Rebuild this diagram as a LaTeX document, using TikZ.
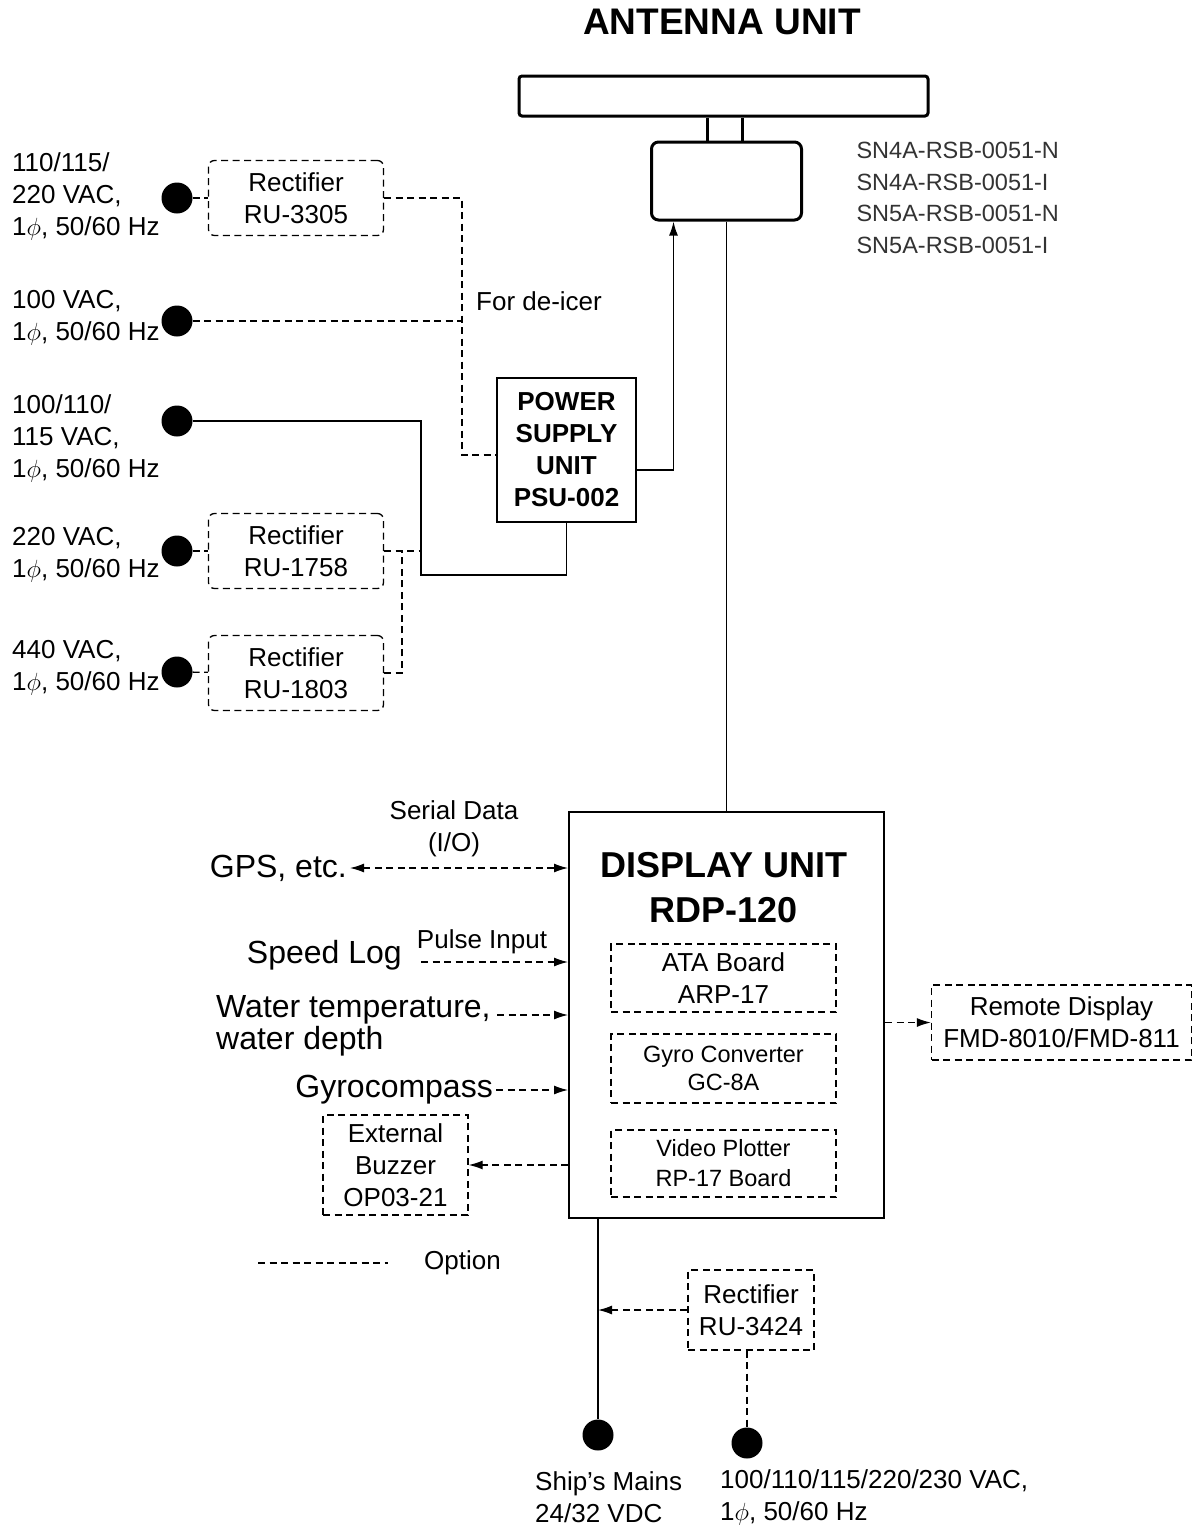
\documentclass[tikz,border=0pt]{standalone}
\usepackage{fontspec}
\setmainfont{Liberation Sans}
\usetikzlibrary{arrows.meta,calc,positioning}

\begin{document}
\begin{tikzpicture}[x=1pt,y=-1pt,
  lbl/.style={font=\fontsize{26}{32}\selectfont, inner sep=3pt},
  biglbl/.style={font=\fontsize{32}{32}\selectfont, inner sep=3pt},
  opt/.style={dash pattern=on 7pt off 4.5pt, line width=1.3pt},
  wire/.style={line width=1.6pt},
  unitbox/.style={draw, line width=2pt, inner sep=0pt, align=center},
  optbox/.style={draw, opt, inner sep=0pt, align=center, font=\fontsize{26}{32}\selectfont},
  rectbox/.style={optbox, rounded corners=6pt},
  dot/.style={circle, fill, inner sep=0pt, minimum size=31pt},
  >={Latex[length=14pt,width=9pt]}]
\useasboundingbox (0,0) rectangle (1193,1526);

% antenna unit
\node[font=\bfseries\fontsize{37}{40}\selectfont] (title) at (722,22) {ANTENNA UNIT};
\node[draw, line width=3pt, rounded corners=3pt, minimum width=409pt, minimum height=40pt] (antbar) at (723.5,96) {};
\node[draw, line width=3pt, rounded corners=7pt, minimum width=150pt, minimum height=78pt] (radome) at (726.5,181) {};
\foreach \sx in {707,742} {
  \draw[line width=3pt] (\sx,0 |- antbar.south) -- (\sx,0 |- radome.north);
}
\node[font=\fontsize{23.5}{31.5}\selectfont, text=black!80, align=left, anchor=west] (models) at (853,198)
  {SN4A-RSB-0051-N\\SN4A-RSB-0051-I\\SN5A-RSB-0051-N\\SN5A-RSB-0051-I};

% power inputs
\node[unitbox, font=\bfseries\fontsize{26}{32}\selectfont, minimum width=139pt, minimum height=144pt] (psu) at (566.5,450) {POWER\\SUPPLY\\UNIT\\PSU-002};
\foreach \n/\y/\t in {ru3305/198/3305, ru1758/551/1758, ru1803/673/1803} {
  \node[rectbox, minimum width=175pt, minimum height=75pt] (\n) at (296,\y) {Rectifier\\RU-\t};
}
\foreach \n/\x/\y in {d1/177/198, d2/177/321, d3/177/421, d4/177/551, d5/177/672, d6/598/1435, d7/747/1443} {
  \node[dot] (\n) at (\x,\y) {};
}
\node[lbl, align=left, anchor=west] (in1) at (9,196) {110/115/\\220 VAC,\\1$\phi$, 50/60 Hz};
\node[lbl, align=left, anchor=west] (in2) at (9,318) {100 VAC,\\1$\phi$, 50/60 Hz};
\node[lbl, align=left, anchor=west] (in3) at (9,438) {100/110/\\115 VAC,\\1$\phi$, 50/60 Hz};
\node[lbl, align=left, anchor=west] (in4) at (9,555) {220 VAC,\\1$\phi$, 50/60 Hz};
\node[lbl, align=left, anchor=west] (in5) at (9,668) {440 VAC,\\1$\phi$, 50/60 Hz};
\node[lbl, anchor=west] (deicer) at (473,301) {For de-icer};

\coordinate (jd) at (462,455);
\coordinate (jp) at (421,575);
\coordinate (jr) at (402,551);
\draw[opt] (d1) -- (ru3305);
\draw[opt] (ru3305.east) -| (jd) -- (jd -| psu.west);
\draw[opt] (d2) -- (d2 -| jd);
\draw[wire, ->] ($(psu.east)+(0,20)$) -| ($(radome.south)+(-53,0)$);
\draw[wire] (d3.east) -| (jp) -| (psu.south);
\draw[opt] (d4) -- (ru1758);
\draw[opt] (ru1758.east) -- (ru1758.east -| jp);
\draw[opt] (ru1803.east) -| (jr);
\draw[opt] (d5) -- (ru1803);

% display unit
\node[unitbox, minimum width=315pt, minimum height=406pt] (du) at (726.5,1015) {};
\draw[wire] (radome) -- (du);
\node[font=\bfseries\fontsize{36}{45}\selectfont, align=center] (dutitle) at (724,888) {DISPLAY UNIT\\RDP-120};
\node[optbox, minimum width=225pt, minimum height=68pt] (ata) at (723.5,978) {ATA Board\\ARP-17};
\node[optbox, font=\fontsize{23.5}{28}\selectfont, minimum width=225pt, minimum height=69pt] (gc) at (723.5,1068.5) {Gyro Converter\\GC-8A};
\node[optbox, font=\fontsize{23.5}{30}\selectfont, minimum width=225pt, minimum height=67pt] (vp) at (723.5,1163.5) {Video Plotter\\RP-17 Board};
\node[optbox, minimum width=260pt, minimum height=75pt] (remote) at (1061.5,1022.5) {Remote Display\\FMD-8010/FMD-811};
\draw[opt, ->] (du.east |- remote) -- (remote.west);

% sensors
\node[biglbl, anchor=east] (gps) at (350,868) {GPS, etc.};
\node[lbl, align=center] (serial) at (454,829) {Serial Data\\(I/O)};
\draw[opt, <->] (gps.east) -- (gps.east -| du.west);
\node[biglbl, anchor=east] (speedlog) at (405,955) {Speed Log};
\node[lbl] (pulse) at (482,942) {Pulse Input};
\coordinate (pl) at (421,962);
\draw[opt, ->] (pl) -- (pl -| du.west);
\node[biglbl, align=left, anchor=west] (water) at (213,1026) {Water temperature,\\water depth};
\coordinate (wt) at (497,1015);
\draw[opt, ->] (wt) -- (wt -| du.west);
\node[biglbl, anchor=east] (gyro) at (496,1090) {Gyrocompass};
\draw[opt, ->] (gyro.east) -- (gyro.east -| du.west);
\node[optbox, minimum width=145pt, minimum height=100pt] (buzzer) at (395.5,1165) {External\\Buzzer\\OP03-21};
\draw[opt, ->] (du.west |- buzzer) -- (buzzer.east);

% legend
\node[lbl, anchor=west] (option) at (421,1263) {Option};
\draw[opt] ($(option.west)+(-163,0)$) -- ($(option.west)+(-33,0)$);

% ship's mains
\draw[wire] (d6 |- du.south) -- (d6);
\node[optbox, minimum width=126pt, minimum height=80pt] (ru3424) at (751,1310) {Rectifier\\RU-3424};
\draw[opt, ->] (ru3424.west) -- (ru3424.west -| d6);
\draw[opt] (ru3424.south -| d7) -- (d7);
\node[lbl, align=left, anchor=west] (mains) at (532,1497) {Ship’s Mains\\24/32 VDC};
\node[lbl, align=left, anchor=west] (acin) at (717,1497) {100/110/115/220/230 VAC,\\1$\phi$, 50/60 Hz};
\end{tikzpicture}
\end{document}
